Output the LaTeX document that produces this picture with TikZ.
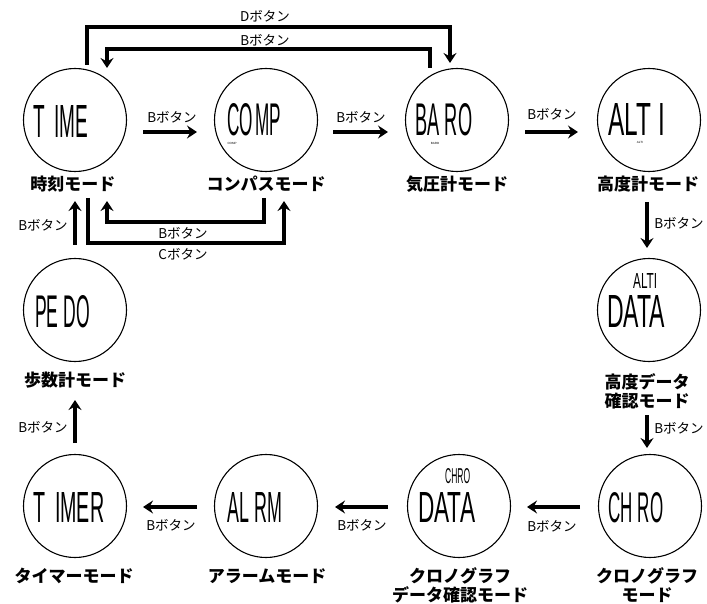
\documentclass[tikz,border=0pt]{standalone}
\usepackage{fontspec}
\usepackage{graphicx}
\usetikzlibrary{arrows.meta}
\newfontfamily\jpfont{Noto Sans CJK JP}
\newfontfamily\lcdfont{Liberation Sans}
\newcommand{\lcdtext}[3]{\resizebox{#1pt}{#2pt}{\lcdfont #3}}
\tikzset{
  modecircle/.style={circle, draw, line width=1.1pt, minimum size=103pt, inner sep=0pt},
  lbl/.style={font=\jpfont\bfseries\fontsize{17}{19}\selectfont, align=center, inner sep=0pt},
  btn/.style={font=\jpfont\fontsize{13.5}{15}\selectfont, inner sep=0pt},
  lcdbox/.style={inner sep=0pt, anchor=north west},
  tinytxt/.style={font=\lcdfont\fontsize{3}{3}\selectfont, inner sep=0pt},
  conn/.style={line width=3.1pt, -{Stealth[length=10pt,width=13pt,inset=3.5pt]}}
}
\begin{document}
\begin{tikzpicture}[x=1pt,y=-1pt]
\useasboundingbox (0,0) rectangle (707,604);
% circles
\node[modecircle] (time) at (75,120) {};
\node[modecircle] (comp) at (266,120) {};
\node[modecircle] (baro) at (457,120) {};
\node[modecircle] (alti) at (649,120) {};
\node[modecircle] (altidata) at (649,310) {};
\node[modecircle] (pedo) at (75,310) {};
\node[modecircle] (timer) at (75,506) {};
\node[modecircle] (alrm) at (266,506) {};
\node[modecircle] (chrodata) at (459,506) {};
\node[modecircle] (chro) at (650,506) {};
% display texts
\node[lcdbox] (dtime) at (33,105) {\lcdtext{55}{32}{T\hspace{.5em}IME}};
\node[lcdbox] (dcomp) at (227,103) {\lcdtext{54}{32}{CO\hspace{.15em}MP}};
\node[tinytxt] (scomp) at (232,143) {COMP};
\node[lcdbox] (dbaro) at (415,103) {\lcdtext{57}{32}{BA\hspace{.3em}RO}};
\node[tinytxt] (sbaro) at (435,143) {BARO};
\node[lcdbox] (dalti) at (608,103) {\lcdtext{57}{32}{ALT\hspace{.3em}I}};
\node[tinytxt] (salti) at (640,142) {ALTI};
\node[lcdbox] (saltid) at (633,273) {\lcdtext{24}{15}{ALTI}};
\node[lcdbox] (daltid) at (607,295) {\lcdtext{58}{32}{DATA}};
\node[lcdbox] (dpedo) at (35,295) {\lcdtext{55}{32}{PE\hspace{.3em}DO}};
\node[lcdbox] (dtimer) at (33,492) {\lcdtext{71}{30}{T\hspace{.5em}IMER}};
\node[lcdbox] (dalrm) at (227,492) {\lcdtext{55}{30}{AL\hspace{.3em}RM}};
\node[lcdbox] (schrod) at (445,468) {\lcdtext{25}{15}{CHRO}};
\node[lcdbox] (dchrod) at (418,492) {\lcdtext{57}{30}{DATA}};
\node[lcdbox] (dchro) at (608,492) {\lcdtext{55}{30}{CH\hspace{.3em}RO}};
% mode labels
\node[lbl] (ltime) at (73,184) {時刻モード};
\node[lbl] (lcomp) at (266,184) {コンパスモード};
\node[lbl] (lbaro) at (457,184) {気圧計モード};
\node[lbl] (lalti) at (648,184) {高度計モード};
\node[lbl] (lpedo) at (75,380) {歩数計モード};
\node[lbl] (laltid) at (647,391) {高度データ\\確認モード};
\node[lbl] (ltimer) at (74,576) {タイマーモード};
\node[lbl] (lalrm) at (267,576) {アラームモード};
\node[lbl] (lchrod) at (460,585.5) {クロノグラフ\\データ確認モード};
\node[lbl] (lchro) at (647,585.5) {クロノグラフ\\モード};
% connector end points
\coordinate (d1) at (87,65);   \coordinate (d2) at (450,63);
\coordinate (b1) at (430,68);  \coordinate (b2) at (107,68);
\coordinate (lb1) at (264,198); \coordinate (lb2) at (107,201);
\coordinate (c1) at (88,198);  \coordinate (c2) at (284,201);
\coordinate (tc1) at (143,132); \coordinate (tc2) at (197,132);
\coordinate (cb1) at (333,132); \coordinate (cb2) at (388,132);
\coordinate (ba1) at (525,132); \coordinate (ba2) at (578,132);
\coordinate (ad1) at (647,202); \coordinate (ad2) at (647,248);
\coordinate (dc1) at (647,415); \coordinate (dc2) at (647,448);
\coordinate (cd1) at (580,507); \coordinate (cd2) at (527,507);
\coordinate (da1) at (388,507); \coordinate (da2) at (335,507);
\coordinate (at1) at (197,507); \coordinate (at2) at (143,507);
\coordinate (tp1) at (75,443);  \coordinate (tp2) at (75,400);
\coordinate (pt1) at (75,245);  \coordinate (pt2) at (75,201);
% connectors
\draw[conn] (d1) -- ++(0,-38) -| (d2);
\draw[conn] (b1) -- ++(0,-19) -| (b2);
\draw[conn] (lb1) -- ++(0,24) -| (lb2);
\draw[conn] (c1) -- ++(0,45) -| (c2);
\draw[conn] (tc1) -- (tc2);
\draw[conn] (cb1) -- (cb2);
\draw[conn] (ba1) -- (ba2);
\draw[conn] (ad1) -- (ad2);
\draw[conn] (dc1) -- (dc2);
\draw[conn] (cd1) -- (cd2);
\draw[conn] (da1) -- (da2);
\draw[conn] (at1) -- (at2);
\draw[conn] (tp1) -- (tp2);
\draw[conn] (pt1) -- (pt2);
% button labels
\node[btn] (kd) at (265,16) {Dボタン};
\node[btn] (kb) at (265,40) {Bボタン};
\node[btn] (ktc) at (172,117) {Bボタン};
\node[btn] (kcb) at (361,117) {Bボタン};
\node[btn] (kba) at (552,114) {Bボタン};
\node[btn] (klb) at (183,233) {Bボタン};
\node[btn] (kc) at (183,254) {Cボタン};
\node[btn] (kpt) at (43,225) {Bボタン};
\node[btn] (ktp) at (43,427) {Bボタン};
\node[btn] (kad) at (679,223) {Bボタン};
\node[btn] (kdc) at (679,428) {Bボタン};
\node[btn] (kat) at (171,525) {Bボタン};
\node[btn] (kda) at (362,525) {Bボタン};
\node[btn] (kcd) at (552,526) {Bボタン};
\end{tikzpicture}
\end{document}
